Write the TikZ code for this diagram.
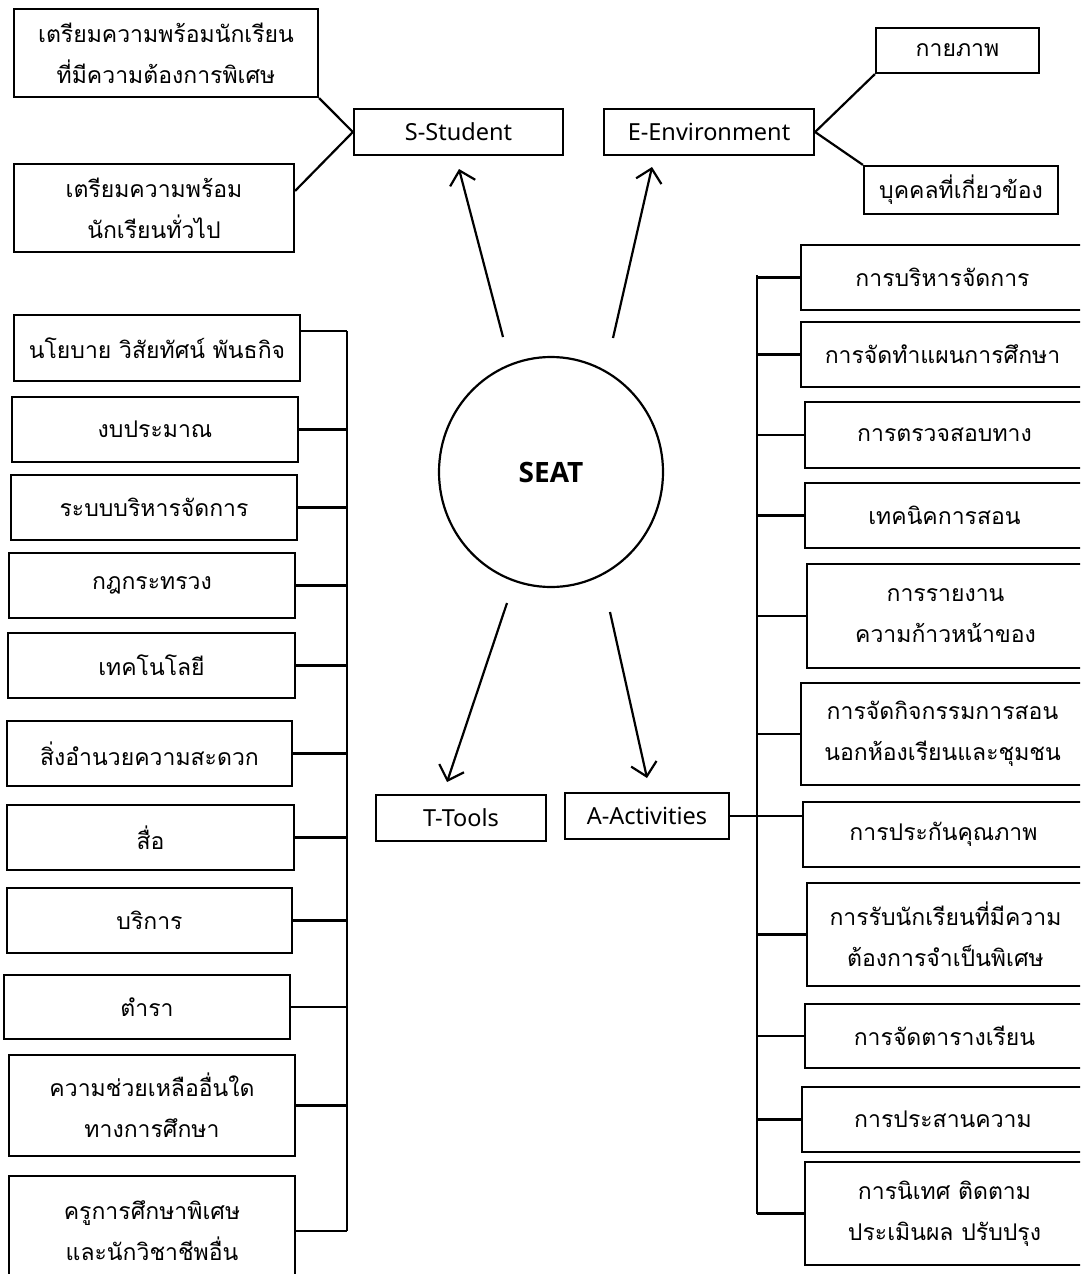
\documentclass[tikz,border=0pt]{standalone}
\usepackage{fontspec}
\setmainfont{Noto Sans}
\newfontfamily\seatfont{Open Sans}
\newfontfamily\thaifont[Script=Thai]{Loma}
\usetikzlibrary{arrows.meta,shapes.geometric}
\tikzset{
  sz/.style 2 args={minimum width=#1pt, minimum height=#2pt},
  box/.style={draw, line width=2.2pt, align=center, inner sep=0pt,
    font=\thaifont\fontsize{23}{41}\selectfont},
  lbox/.style={draw, line width=2.2pt, inner sep=0pt,
    font=\fontsize{23.5}{27}\selectfont},
  link/.style={line width=2.2pt},
  arr/.style={line width=2.2pt, -{Straight Barb[length=13pt,width=26pt,line width=2.2pt]}},
}
\begin{document}
\begin{tikzpicture}[x=1pt,y=-1pt]
\clip (0,0) rectangle (1080,1274);
\fill[white] (0,0) rectangle (1080,1274);

% centre
\node[draw, line width=2.2pt, ellipse, minimum width=224pt, minimum height=230pt,
  font=\seatfont\bfseries\fontsize{28}{32}\selectfont, inner sep=0pt] (seat) at (551,472) {SEAT};

% four branches
\node[lbox, sz={209}{46}] (S) at (458.5,132) {S-Student};
\node[lbox, sz={210}{46}] (E) at (709,132) {E-Environment};
\node[lbox, sz={170}{46}] (T) at (461,818) {T-Tools};
\node[lbox, sz={164}{46}] (A) at (647,816) {A-Activities};

% S children
\node[box, sz={304}{88}] (a1) at (166,53) {เตรียมความพร้อมนักเรียน\\ที่มีความต้องการพิเศษ};
\node[box, sz={280}{88}] (a2) at (154,208) {เตรียมความพร้อม\\นักเรียนทั่วไป};
\draw[link] (a1.south east) -- (S.west);
\draw[link] ([yshift=-28pt]a2.north east) -- (S.west);

% E children
\node[box, sz={163}{45}] (e1) at (957.5,50.5) {กายภาพ};
\node[box, sz={194}{48}] (e2) at (961,190) {บุคคลที่เกี่ยวข้อง};
\draw[link] (E.east) -- (e1.south west);
\draw[link] (E.east) -- (e2.north west);

% arrows
\coordinate (sT) at (503,337);
\coordinate (sH) at (459,169);
\coordinate (eT) at (613,338);
\coordinate (eH) at (652,167);
\coordinate (tT) at (507,603);
\coordinate (tH) at (447,782);
\coordinate (aT) at (610,612);
\coordinate (aH) at (647,778);
\draw[arr] (sT) -- (sH);
\draw[arr] (eT) -- (eH);
\draw[arr] (tT) -- (tH);
\draw[arr] (aT) -- (aH);

% left column (Tools)
\node[box, sz={286}{66}] (L1) at (157,348) {นโยบาย วิสัยทัศน์ พันธกิจ};
\node[box, sz={286}{65}] (L2) at (155,429.5) {งบประมาณ};
\node[box, sz={286}{65}] (L3) at (154,507.5) {ระบบบริหารจัดการ};
\node[box, sz={286}{65}] (L4) at (152,585.5) {กฎกระทรวง};
\node[box, sz={287}{65}] (L5) at (151.5,665.5) {เทคโนโลยี};
\node[box, sz={285}{65}] (L6) at (149.5,753.5) {สิ่งอำนวยความสะดวก};
\node[box, sz={287}{65}] (L7) at (150.5,837.5) {สื่อ};
\node[box, sz={285}{65}] (L8) at (149.5,920.5) {บริการ};
\node[box, sz={286}{64}] (L9) at (147,1007) {ตำรา};
\node[box, sz={286}{101}] (L10) at (152,1105.5) {ความช่วยเหลืออื่นใด\\ทางการศึกษา};
\node[box, sz={286}{110}] (L11) at (152,1231) {ครูการศึกษาพิเศษ\\และนักวิชาชีพอื่น};

\coordinate (lbTop) at (347,331);
\draw[link] (lbTop) -- (lbTop |- L11.east);
\draw[link] (lbTop) -- (lbTop -| L1.east);
\foreach \n in {L2,L3,L4,L5,L6,L7,L8,L9,L10,L11}
  \draw[link] (\n.east) -- (\n.east -| lbTop);

% right column (Activities)
\node[box, sz={283}{65}] (R1) at (942.5,277.5) {การบริหารจัดการ};
\node[box, sz={283}{65}] (R2) at (942.5,354.5) {การจัดทำแผนการศึกษา};
\node[box, sz={279}{66}] (R3) at (944.5,435) {การตรวจสอบทาง};
\node[box, sz={279}{65}] (R4) at (944.5,515.5) {เทคนิคการสอน};
\node[box, sz={277}{104}] (R5) at (945.5,616) {การรายงาน\\ความก้าวหน้าของ};
\node[box, sz={283}{102}] (R6) at (942.5,734) {การจัดกิจกรรมการสอน\\นอกห้องเรียนและชุมชน};
\node[box, sz={281}{65}] (R7) at (943.5,834.5) {การประกันคุณภาพ};
\node[box, sz={277}{103}] (R8) at (945.5,934.5) {การรับนักเรียนที่มีความ\\ต้องการจำเป็นพิเศษ};
\node[box, sz={279}{64}] (R9) at (944.5,1036) {การจัดตารางเรียน};
\node[box, sz={282}{65}] (R10) at (943,1119.5) {การประสานความ};
\node[box, sz={279}{103}] (R11) at (944.5,1213.5) {การนิเทศ ติดตาม\\ประเมินผล ปรับปรุง};

\coordinate (rbTop) at (757,275);
\draw[link] (rbTop) -- (rbTop |- R11.west);
\foreach \n in {R1,R2,R3,R4,R5,R6,R8,R9,R10,R11}
  \draw[link] (\n.west) -- (\n.west -| rbTop);
\draw[link] (A.east) -- (A.east -| R7.west);
\end{tikzpicture}
\end{document}
